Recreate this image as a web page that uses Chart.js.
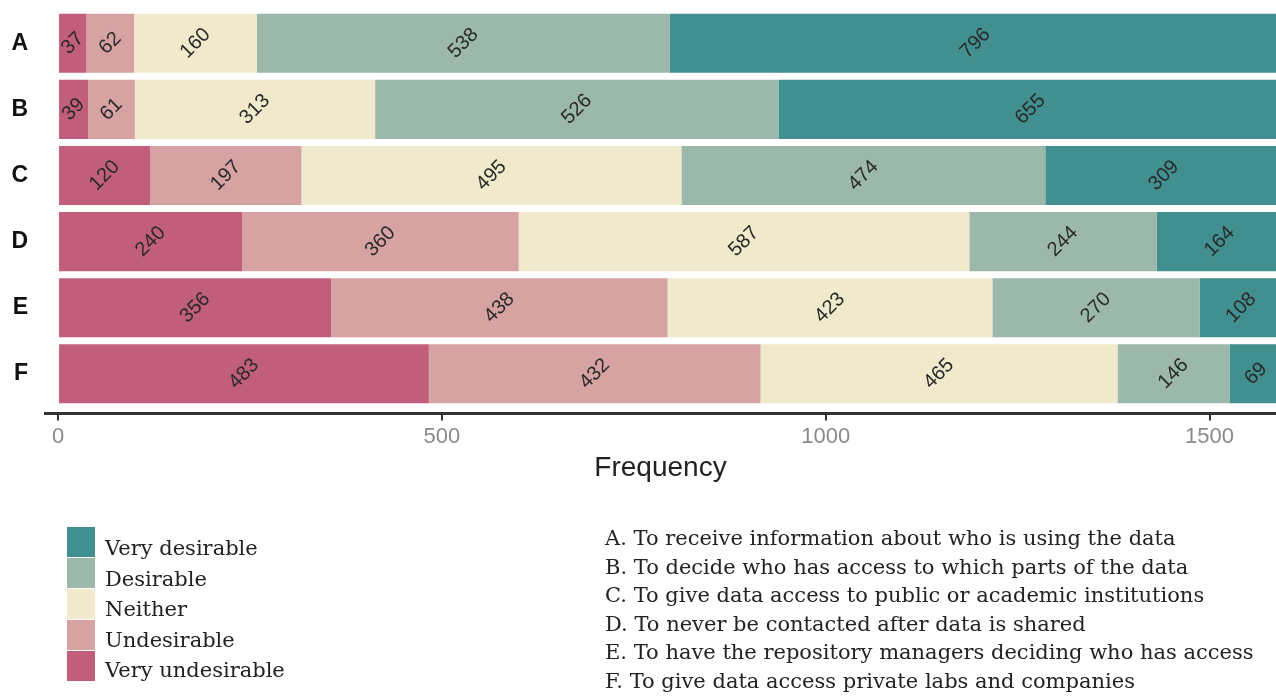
<!DOCTYPE html>
<html>
<head>
<meta charset="utf-8">
<script src="https://cdn.jsdelivr.net/npm/chart.js@4"></script>
<style>
  body { margin: 0; background: #fff; width: 1276px; height: 697px; overflow: hidden; }
  #chart { display: block; }
</style>
</head>
<body>
<canvas id="chart" width="1276" height="697"></canvas>
<script>
// categories (rows) and the five answer levels, stacked left to right
const categories = ["A", "B", "C", "D", "E", "F"];
const seriesNames = ["Very undesirable", "Undesirable", "Neither", "Desirable", "Very desirable"];
const seriesColors = ["#C05E7C", "#D6A2A2", "#F0E9CB", "#9BB8AB", "#418F8F"];

const veryUndesirable = [37, 39, 120, 240, 356, 483];
const undesirable = [62, 61, 197, 360, 438, 432];
const neither = [160, 313, 495, 587, 423, 465];
const desirable = [538, 526, 474, 244, 270, 146];
const veryDesirable = [796, 655, 309, 164, 108, 69];

const xTicks = [0, 500, 1000, 1500];

const descriptions = [
  "A. To receive information about who is using the data",
  "B. To decide who has access to which parts of the data",
  "C. To give data access to public or academic institutions",
  "D. To never be contacted after data is shared",
  "E. To have the repository managers deciding who has access",
  "F. To give data access private labs and companies",
];

const seriesValues = [veryUndesirable, undesirable, neither, desirable, veryDesirable];

const sans = '"Liberation Sans", Arial, sans-serif';
const serif = '"DejaVu Serif", serif';

// rotated count inside each segment
const barLabels = {
  id: "barLabels",
  afterDatasetsDraw(chart) {
    const ctx = chart.ctx;
    ctx.save();
    ctx.font = "20px " + sans;
    ctx.fillStyle = "#2a2a2a";
    ctx.textAlign = "center";
    ctx.textBaseline = "middle";
    chart.data.datasets.forEach((ds, di) => {
      chart.getDatasetMeta(di).data.forEach((bar, i) => {
        const cx = (bar.x + bar.base) / 2;
        ctx.save();
        ctx.translate(cx, bar.y);
        ctx.rotate(-Math.PI / 4);
        ctx.fillText(String(ds.data[i].x), 0, 0);
        ctx.restore();
      });
    });
    ctx.restore();
  },
};

// legend swatches + the A-F description list under the plot
const notes = {
  id: "notes",
  afterDraw(chart) {
    const ctx = chart.ctx;
    ctx.save();
    ctx.font = "21px " + serif;
    ctx.textAlign = "left";
    ctx.textBaseline = "alphabetic";

    const order = seriesNames.map((n, i) => i).reverse();
    order.forEach((si, row) => {
      ctx.fillStyle = seriesColors[si];
      ctx.fillRect(67, 527 + row * 31, 28, 30);
      ctx.fillStyle = "#222";
      ctx.fillText(seriesNames[si], 105, 555 + row * 30.5);
    });

    ctx.fillStyle = "#222";
    descriptions.forEach((d, row) => {
      ctx.fillText(d, 605, 545 + row * 28.5);
    });
    ctx.restore();
  },
};

new Chart(document.getElementById("chart"), {
  type: "bar",
  data: {
    datasets: seriesValues.map((vals, si) => ({
      label: seriesNames[si],
      data: vals.map((v, i) => ({ x: v, y: i })),
      backgroundColor: seriesColors[si],
      borderWidth: 0,
      categoryPercentage: 1,
      barPercentage: 0.893,
    })),
  },
  options: {
    indexAxis: "y",
    responsive: false,
    animation: false,
    devicePixelRatio: 1,
    layout: { padding: { top: 3.6, right: 0, bottom: 197, left: 0 } },
    plugins: { legend: { display: false }, tooltip: { enabled: false } },
    scales: {
      x: {
        type: "linear",
        stacked: true,
        position: "bottom",
        min: -17,
        max: 1586.5,
        afterBuildTicks: (s) => { s.ticks = xTicks.map((v) => ({ value: v })); },
        afterFit: (s) => {
          s.height = 86.5;
          s.paddingLeft = 0;
          s.paddingRight = 0;
        },
        grid: { drawOnChartArea: false, drawTicks: true, tickLength: 7, color: "#333", lineWidth: 2 },
        border: { display: true, color: "#333", width: 3 },
        ticks: {
          callback: (v) => String(v),
          color: "#8a8a8a",
          font: { family: sans, size: 22 },
          padding: 3,
          maxRotation: 0,
        },
        title: {
          display: true,
          text: "Frequency",
          color: "#222",
          font: { family: sans, size: 28 },
          padding: { top: 0, bottom: 15 },
        },
      },
      y: {
        type: "linear",
        stacked: true,
        reverse: true,
        offset: false,
        min: -0.6,
        max: 5.6,
        afterBuildTicks: (s) => { s.ticks = categories.map((c, i) => ({ value: i })); },
        afterFit: (s) => {
          s.width = 45;
          s.paddingTop = 0;
          s.paddingBottom = 0;
        },
        grid: { display: false, drawTicks: false, offset: false },
        border: { display: false },
        ticks: {
          callback: (v) => categories[v],
          color: "#111",
          font: { family: sans, size: 23, weight: "bold" },
          padding: 17,
        },
      },
    },
  },
  plugins: [barLabels, notes],
});
</script>
</body>
</html>
